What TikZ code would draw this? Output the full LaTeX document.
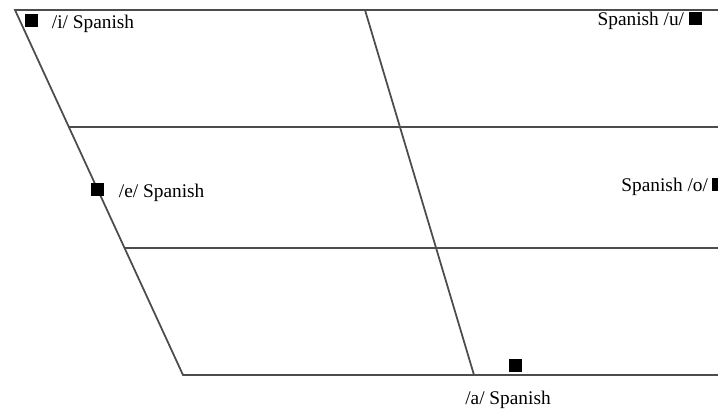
\documentclass[tikz,border=0pt]{standalone}
\usepackage{fontspec}
\setmainfont{Liberation Serif}
\usetikzlibrary{positioning,calc}
\tikzset{
  chartline/.style={draw=black!70, line width=1pt},
  vowelmark/.style={fill=black, draw=none, minimum size=0.26cm, inner sep=0pt},
  vowellabel/.style={font=\fontsize{11}{13}\selectfont, inner sep=1pt}
}
\begin{document}
\begin{tikzpicture}
\useasboundingbox (0,0) rectangle (14.36,8.24);
% frame of the chart
\coordinate (topleft) at (0.30,8.04);
\coordinate (topright) at (14.36,8.04);
\coordinate (botleft) at (3.66,0.74);
\coordinate (botright) at (14.36,0.74);
\coordinate (midtop) at (7.30,8.04);
\coordinate (midbot) at (9.48,0.74);
\coordinate (hileft) at ($(topleft)!0.3205!(botleft)$);
\coordinate (loleft) at ($(topleft)!0.6521!(botleft)$);
\coordinate (hiright) at (14.36,5.70);
\coordinate (loright) at (14.36,3.28);
\draw[chartline] (topright) -- (topleft) -- (botleft) -- (botright);
\draw[chartline] (hileft) -- (hiright);
\draw[chartline] (loleft) -- (loright);
\draw[chartline] (midtop) -- (midbot);
% vowels
\node[vowelmark] (imark) at (0.62,7.82) {};
\node[vowellabel, right=0.24cm of imark, yshift=-0.06cm] (ilabel) {/i/ Spanish};
\node[vowelmark] (umark) at (13.90,7.86) {};
\node[vowellabel, left=0.04cm of umark, yshift=-0.03cm] (ulabel) {Spanish /u/};
\node[vowelmark] (emark) at (1.94,4.44) {};
\node[vowellabel, right=0.26cm of emark, yshift=-0.06cm] (elabel) {/e/ Spanish};
\node[vowelmark] (omark) at (14.36,4.54) {};
\node[vowellabel, anchor=east] (olabel) at (14.20,4.50) {Spanish /o/};
\node[vowelmark] (amark) at (10.30,0.92) {};
\node[vowellabel] (alabel) at (10.16,0.24) {/a/ Spanish};
\end{tikzpicture}
\end{document}
